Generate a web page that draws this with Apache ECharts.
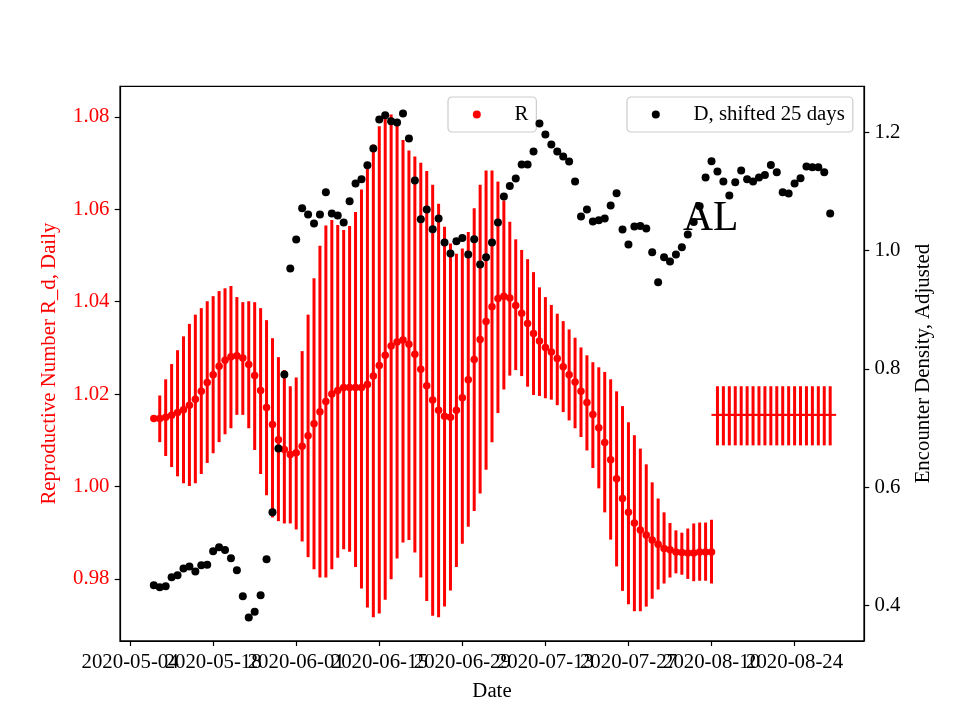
<!DOCTYPE html>
<html><head><meta charset="utf-8">
<script src="https://cdn.jsdelivr.net/npm/echarts@6/dist/echarts.min.js"></script>
<style>html,body{margin:0;padding:0;background:#fff}#c{width:960px;height:720px}</style>
</head><body><div id="c"></div>
<script>
// ---------- data ----------
const axisOriginDate = '2020-05-04';
const tickLabels = ['2020-05-04','2020-05-18','2020-06-01','2020-06-15','2020-06-29','2020-07-13','2020-07-27','2020-08-10','2020-08-24'];
const leftTicks = [0.98, 1.00, 1.02, 1.04, 1.06, 1.08];
const rightTicks = [0.4, 0.6, 0.8, 1.0, 1.2];

// Daily reproductive number R (2020-05-08 .. 2020-08-10)
const rStartDate = '2020-05-08';
const rValues = [
 1.0147,1.0147,1.0150,1.0154,1.0160,1.0166,1.0176,1.0189,1.0206,1.0225,
 1.0242,1.0260,1.0273,1.0281,1.0283,1.0278,1.0264,1.0240,1.0208,1.0171,
 1.0134,1.0101,1.0080,1.0069,1.0073,1.0087,1.0110,1.0136,1.0162,1.0184,
 1.0200,1.0208,1.0214,1.0214,1.0214,1.0214,1.0221,1.0239,1.0262,1.0284,
 1.0304,1.0313,1.0317,1.0308,1.0286,1.0254,1.0218,1.0187,1.0165,1.0152,
 1.0150,1.0165,1.0192,1.0231,1.0275,1.0318,1.0357,1.0389,1.0407,1.0412,
 1.0408,1.0392,1.0375,1.0353,1.0331,1.0315,1.0301,1.0291,1.0277,1.0259,
 1.0242,1.0226,1.0206,1.0182,1.0156,1.0127,1.0095,1.0058,1.0017,0.9974,
 0.9944,0.9921,0.9906,0.9895,0.9884,0.9875,0.9866,0.9863,0.9858,0.9857,
 0.9856,0.9856,0.9858,0.9858,0.9858
];
const rLow = [
 1.0147,1.0096,1.0066,1.0042,1.0022,1.0007,1.0001,1.0007,1.0027,1.0051,
 1.0072,1.0096,1.0113,1.0126,1.0155,1.0155,1.0126,1.0079,1.0027,0.9981,
 0.9933,0.9925,0.9920,0.9920,0.9907,0.9881,0.9847,0.9821,0.9803,0.9803,
 0.9821,0.9846,0.9864,0.9859,0.9826,0.9779,0.9738,0.9717,0.9725,0.9755,
 0.9799,0.9844,0.9879,0.9884,0.9857,0.9803,0.9752,0.9720,0.9717,0.9740,
 0.9775,0.9826,0.9876,0.9913,0.9947,0.9985,1.0036,1.0096,1.0159,1.0210,
 1.0240,1.0252,1.0239,1.0216,1.0198,1.0196,1.0191,1.0188,1.0176,1.0161,
 1.0143,1.0126,1.0107,1.0078,1.0040,0.9996,0.9944,0.9885,0.9827,0.9774,
 0.9745,0.9730,0.9730,0.9740,0.9757,0.9777,0.9790,0.9803,0.9812,0.9809,
 0.9800,0.9795,0.9796,0.9796,0.9790
];
const rHigh = [
 1.0147,1.0197,1.0232,1.0265,1.0295,1.0325,1.0352,1.0372,1.0386,1.0401,
 1.0412,1.0423,1.0429,1.0434,1.0410,1.0399,1.0401,1.0399,1.0386,1.0360,
 1.0321,1.0280,1.0252,1.0217,1.0236,1.0293,1.0372,1.0451,1.0521,1.0565,
 1.0577,1.0566,1.0555,1.0564,1.0594,1.0643,1.0689,1.0740,1.0780,1.0798,
 1.0805,1.0790,1.0750,1.0727,1.0714,1.0701,1.0683,1.0653,1.0612,1.0562,
 1.0526,1.0504,1.0515,1.0551,1.0602,1.0653,1.0684,1.0684,1.0660,1.0619,
 1.0573,1.0535,1.0512,1.0492,1.0464,1.0431,1.0410,1.0393,1.0374,1.0358,
 1.0340,1.0322,1.0301,1.0284,1.0269,1.0258,1.0248,1.0232,1.0206,1.0174,
 1.0139,1.0111,1.0082,1.0048,1.0009,0.9974,0.9944,0.9921,0.9905,0.9900,
 0.9909,0.9920,0.9922,0.9922,0.9928
];

// Projection (2020-08-11 .. 2020-08-30)
const fcStartDate = '2020-08-11';
const fcMean = [1.0155,1.0155,1.0155,1.0155,1.0155,1.0155,1.0155,1.0155,1.0155,1.0155,
                1.0155,1.0155,1.0155,1.0155,1.0155,1.0155,1.0155,1.0155,1.0155,1.0155];
const fcLow  = [1.0089,1.0089,1.0089,1.0089,1.0089,1.0089,1.0089,1.0089,1.0089,1.0089,
                1.0089,1.0089,1.0089,1.0089,1.0089,1.0089,1.0089,1.0089,1.0089,1.0089];
const fcHigh = [1.0217,1.0217,1.0217,1.0217,1.0217,1.0217,1.0217,1.0217,1.0217,1.0217,
                1.0217,1.0217,1.0217,1.0217,1.0217,1.0217,1.0217,1.0217,1.0217,1.0217];

// Encounter density, shifted 25 days (2020-05-08 .. 2020-08-30)
const dStartDate = '2020-05-08';
const dValues = [
 0.4338,0.4305,0.4322,0.4474,0.4507,0.4621,0.4655,0.4570,0.4677,0.4688,
 0.4913,0.4981,0.4935,0.4795,0.4592,0.4152,0.3792,0.3893,0.4169,0.4778,
 0.5573,0.6650,0.7902,0.9695,1.0185,1.0715,1.0608,1.0456,1.0608,1.0985,
 1.0625,1.0591,1.0472,1.0833,1.1132,1.1205,1.1442,1.1724,1.2215,1.2288,
 1.2186,1.2164,1.2316,1.1893,1.1183,1.0529,1.0692,1.0359,1.0540,1.0134,
 0.9948,1.0157,1.0213,0.9931,1.0190,0.9762,0.9886,1.0134,1.0472,1.0912,
 1.1092,1.1217,1.1453,1.1453,1.1673,1.2147,1.1961,1.1792,1.1673,1.1589,
 1.1504,1.1166,1.0574,1.0692,1.0490,1.0512,1.0540,1.0760,1.0968,1.0354,
 1.0101,1.0405,1.0416,1.0371,0.9970,0.9463,0.9886,0.9813,0.9931,1.0055,
 1.0270,1.0483,1.0748,1.1233,1.1510,1.1335,1.1166,1.0929,1.1154,1.1352,
 1.1205,1.1166,1.1233,1.1278,1.1447,1.1323,1.0985,1.0963,1.1132,1.1222,
 1.1419,1.1408,1.1408,1.1323,1.0625
];

// ---------- helpers ----------
const DAY = 86400000;
const dayOf = s => Math.round((Date.parse(s) - Date.parse(axisOriginDate)) / DAY);
const tickDays = tickLabels.map(dayOf);
const evenTickDays = tickDays.filter((d, i) => i % 2 === 0);
const oddTickDays = tickDays.filter((d, i) => i % 2 === 1);
const rStart = dayOf(rStartDate), fcStart = dayOf(fcStartDate), dStart = dayOf(dStartDate);

const FONT = "'Liberation Serif','Times New Roman',serif";
const FS = 20.8;
const X_MIN = -1.7, X_MAX = 123.7;

function errRender(params, api) {
  const p1 = api.coord([api.value(0), api.value(1)]);
  const p2 = api.coord([api.value(0), api.value(2)]);
  return { type: 'line', shape: { x1: p1[0], y1: p1[1], x2: p2[0], y2: p2[1] },
           style: { stroke: '#ff0000', lineWidth: 3 } };
}

// legend handle: 41.6px wide marker area + 11.6px extra text pad, dot centred in the 41.6px area
const LEGEND_ICON = 'path://M0,4L0,4M53.5,4L53.5,4M16.8,4A4,4 0 1,1 24.8,4A4,4 0 1,1 16.8,4Z';
function legendCfg(name, left) {
  return {
    data: [{ name: name, icon: LEGEND_ICON }], left: left, top: 97, orient: 'horizontal',
    itemWidth: 53.5, itemHeight: 8, padding: [5.5, 8, 5.5, 8], symbolKeepAspect: false,
    backgroundColor: 'rgba(255,255,255,0.8)', borderColor: '#cccccc', borderWidth: 1.2, borderRadius: 4,
    textStyle: { fontFamily: FONT, fontSize: FS, color: '#000', lineHeight: 24 },
    selectedMode: false
  };
}

function xLabelAxis(values, withName, withLine) {
  return {
    type: 'value', min: X_MIN, max: X_MAX, position: 'bottom', offset: 0,
    name: withName ? 'Date' : '', nameLocation: 'middle', nameGap: 40,
    nameTextStyle: { fontFamily: FONT, fontSize: FS, color: '#000' },
    axisLine: { show: withLine, onZero: false, lineStyle: { color: '#000', width: 1.2 } },
    axisTick: { show: withLine, inside: false, length: 5.25, customValues: tickDays,
                lineStyle: { color: '#000', width: 1.2 } },
    axisLabel: { show: true, customValues: values, margin: 11, hideOverlap: false,
                 showMinLabel: true, showMaxLabel: true,
                 fontFamily: FONT, fontSize: FS, color: '#000',
                 formatter: v => tickLabels[tickDays.indexOf(Math.round(v))] || '' },
    splitLine: { show: false }
  };
}

const chart = echarts.init(document.getElementById('c'), null, { renderer: 'canvas' });
chart.setOption({
  animation: false,
  backgroundColor: '#ffffff',
  grid: { left: 120, right: 96, top: 86.4, bottom: 79.2, show: true,
          borderColor: '#000', borderWidth: 1.2, backgroundColor: 'transparent' },
  xAxis: [ xLabelAxis(evenTickDays, true, true), xLabelAxis(oddTickDays, false, false) ],
  yAxis: [
    {
      type: 'value', position: 'left', min: 0.9666, max: 1.0866,
      name: 'Reproductive Number R_d, Daily', nameLocation: 'middle', nameGap: 60, nameRotate: 90,
      nameTextStyle: { fontFamily: FONT, fontSize: FS, color: '#ff0000' },
      axisLine: { show: true, onZero: false, lineStyle: { color: '#000', width: 1.2 } },
      axisTick: { show: true, inside: false, length: 5.25, customValues: leftTicks,
                  lineStyle: { color: '#000', width: 1.2 } },
      axisLabel: { show: true, customValues: leftTicks, margin: 10.5,
                   showMinLabel: true, showMaxLabel: true,
                   fontFamily: FONT, fontSize: FS, color: '#ff0000', padding: [3, 0, 0, 0],
                   formatter: v => v.toFixed(2) },
      splitLine: { show: false }
    },
    {
      type: 'value', position: 'right', min: 0.3400, max: 1.2775,
      name: 'Encounter Density, Adjusted', nameLocation: 'middle', nameGap: 49, nameRotate: 90,
      nameTextStyle: { fontFamily: FONT, fontSize: FS, color: '#000' },
      axisLine: { show: true, onZero: false, lineStyle: { color: '#000', width: 1.2 } },
      axisTick: { show: true, inside: false, length: 5.25, customValues: rightTicks,
                  lineStyle: { color: '#000', width: 1.2 } },
      axisLabel: { show: true, customValues: rightTicks, margin: 10.5,
                   showMinLabel: true, showMaxLabel: true,
                   fontFamily: FONT, fontSize: FS, color: '#000', padding: [3, 0, 0, 0],
                   formatter: v => v.toFixed(1) },
      splitLine: { show: false }
    }
  ],
  legend: [ legendCfg('R', 448), legendCfg('D, shifted 25 days', 627) ],
  graphic: [
    { type: 'text', z: 50, style: { text: 'AL', x: 683, y: 219, font: "41.6px 'Liberation Serif'",
      fill: '#000', textAlign: 'left', verticalAlign: 'middle', textVerticalAlign: 'middle' } }
  ],
  series: [
    { name: 'R err', type: 'custom', xAxisIndex: 0, yAxisIndex: 0, z: 2,
      renderItem: errRender, encode: { x: 0, y: [1, 2] },
      data: rValues.map((v, i) => [rStart + i, rLow[i], rHigh[i]]) },
    { name: 'R', type: 'scatter', xAxisIndex: 0, yAxisIndex: 0, z: 3, symbol: 'circle', symbolSize: 7.5,
      itemStyle: { color: '#ff0000', opacity: 1 },
      data: rValues.map((v, i) => [rStart + i, v]) },
    { name: 'R projection err', type: 'custom', xAxisIndex: 0, yAxisIndex: 0, z: 2,
      renderItem: errRender, encode: { x: 0, y: [1, 2] },
      data: fcMean.map((v, i) => [fcStart + i, fcLow[i], fcHigh[i]]) },
    { name: 'R projection', type: 'scatter', xAxisIndex: 0, yAxisIndex: 0, z: 3, symbol: 'rect', symbolSize: [12, 2],
      itemStyle: { color: '#ff0000', opacity: 1 },
      data: fcMean.map((v, i) => [fcStart + i, v]) },
    { name: 'D, shifted 25 days', type: 'scatter', xAxisIndex: 0, yAxisIndex: 1, z: 4, symbol: 'circle', symbolSize: 8,
      itemStyle: { color: '#000000', opacity: 1 },
      data: dValues.map((v, i) => [dStart + i, v]) }
  ]
});
</script>
</body></html>
